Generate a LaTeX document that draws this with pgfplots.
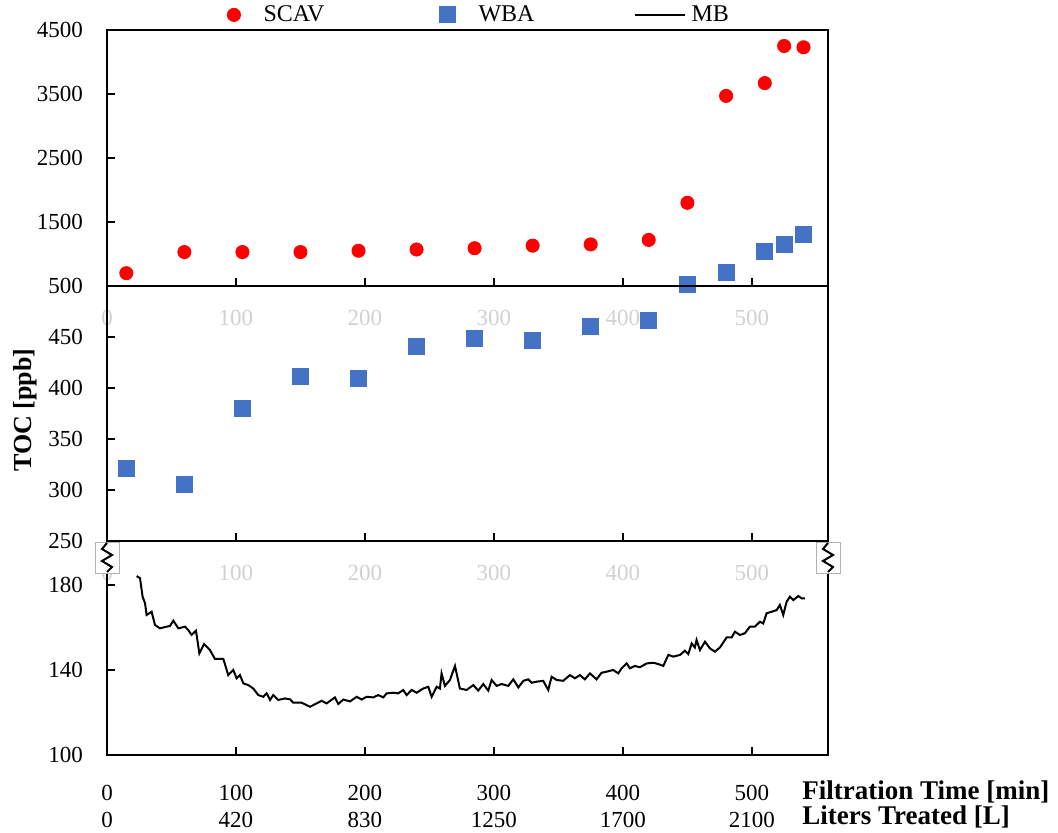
\documentclass[border=0pt]{standalone}
\usepackage{fontspec}
\setmainfont{Liberation Serif}
\usepackage{pgfplots}
\pgfplotsset{compat=1.18}
\definecolor{scav}{HTML}{FF0000}
\definecolor{wba}{HTML}{4472C4}
\definecolor{ghost}{gray}{0.82}
\pgfplotsset{
  panel/.style={
    scale only axis, width=360.5pt,
    xmin=0, xmax=559,
    xtick={0,100,200,300,400,500},
    xtick pos=bottom, ytick pos=left, tick align=inside,
    major tick length=4pt,
    tick style={black, line width=0.8pt},
    axis line style={black, line width=1pt},
    /pgf/number format/assume math mode=true,
    /pgf/number format/1000 sep={},
    tick label style={font=\fontsize{11.5}{13.5}\selectfont},
    yticklabel style={xshift=-8.5pt},
  }
}
\begin{document}
\begin{tikzpicture}
\useasboundingbox (0,0) rectangle (529pt,416.5pt);

% ---------------- top panel ----------------
\begin{axis}[panel, at={(53.5pt,273.5pt)}, anchor=south west,
  height=128pt, ymin=500, ymax=4500,
  ytick={500,1500,2500,3500,4500},
  xticklabel style={text=ghost, yshift=-8.5pt},
  clip=false,
  legend columns=3,
  legend style={draw=none, fill=none, at={(0.158,1.059)}, anchor=west,
    font=\fontsize{12}{14}\selectfont,
    nodes={text width=86pt, align=left},
    /tikz/every odd column/.append style={column sep=9.5pt}},
  legend cell align=left]
\addplot[only marks, mark=*, mark size=3.3pt, color=scav] coordinates {
(15,700) (60,1030) (105,1030) (150,1030) (195,1050) (240,1070) (285,1090)
(330,1130) (375,1150) (420,1220) (450,1800) (480,3470) (510,3670) (525,4250) (540,4230)};
\addlegendentry{SCAV}
\addplot[only marks, mark=square*, mark size=4pt, color=wba] coordinates {
(450,530) (480,719) (510,1047) (525,1156) (540,1312)};
\addlegendentry{WBA}
\addlegendimage{legend image code/.code={%
  \path (0.3cm-3.3pt,0cm) -- (0.3cm+3.3pt,0cm);
  \draw[black, line width=1pt, overlay] (0.3cm-13.5pt,0cm) -- (0.3cm+11.5pt,0cm);}}
\addlegendentry{MB}
\end{axis}

% ---------------- middle panel ----------------
\begin{axis}[panel, at={(53.5pt,146pt)}, anchor=south west,
  height=127.5pt, ymin=250, ymax=500,
  ytick={250,300,350,400,450},
  xticklabel style={text=ghost, yshift=-8.5pt},
  clip=false]
\addplot[only marks, mark=square*, mark size=4pt, color=wba] coordinates {
(15,321) (60,305) (105,380) (150,411) (195,409) (240,441) (285,449)
(330,447) (375,460) (420,466)};
\end{axis}

% ---------------- bottom panel ----------------
\begin{axis}[panel, at={(53.5pt,39pt)}, anchor=south west,
  height=107pt, ymin=100, ymax=200.7,
  ytick={100,140,180},
  xticklabels={{0\\[0pt]0},{100\\[0pt]420},{200\\[0pt]830},{300\\[0pt]1250},{400\\[0pt]1700},{500\\[0pt]2100}},
  xticklabel style={align=center, yshift=-11.5pt},
  clip=false]
\addplot[black, line width=1pt, mark=none] coordinates {
(23,184.2) (25.6,183.2) (27.6,174.5) (29.5,171.4) (30.7,165.9) (32.8,166.7) (34.6,167.4)
(37.2,161.2) (41.1,159.6) (46.3,160.4) (48.8,160.7) (51.4,163.2) (55.3,159.6) (60.5,160.4)
(63,158.8) (65.6,156.5) (69,158.5) (71.6,147.8) (75.2,152.2) (79.8,149.4) (83.7,145.2)
(90.2,145.2) (94,137.6) (97.9,140) (100.5,136.1) (103.1,137.6) (105.7,133.7) (109.5,132.9)
(113.4,131.3) (117.3,128.2) (121.2,127.4) (123.8,129) (126.4,125.9) (128.9,128.2) (132.8,125.9)
(138,126.6) (141.9,126.2) (144.4,124.6) (150.9,124.6) (157.4,122.7) (162.6,124.3) (166.4,125.5)
(170.3,124.3) (176.7,127.1) (179.3,124) (183.2,126.1) (188.4,125.2) (193.6,127.4) (197.4,126.1)
(201.3,127.4) (206.4,127.1) (210.3,128.2) (214.2,127.1) (216.8,129) (221.9,129.3) (225.8,129)
(229.7,130.6) (232.3,128.2) (236.2,130.6) (240.1,129.3) (245.2,131.3) (249.1,132.1) (251.7,127.4)
(255.6,132.1) (258.1,131.3) (259.4,138.4) (262,132.5) (265.9,135.3) (269.8,141.9) (273.6,131.3)
(278.8,130.6) (284,132.9) (287.8,130.3) (291.7,133.4) (295.6,130.3) (298.2,135.3) (302.1,132.5)
(306,133.4) (311.1,132.5) (315,135.6) (318.9,131.8) (322.8,134.9) (326.6,135.6) (329.2,134)
(333.1,134.5) (338.2,134.9) (342.1,130.6) (344.7,136.8) (348.6,135.3) (353.7,134.9) (358.9,137.6)
(362.8,136.1) (366.7,137.6) (370.5,135.6) (374.4,138.4) (379.6,135.6) (383.4,138.7) (387.3,139.2)
(392.5,140) (396.4,138.4) (399,140.8) (402.9,143.1) (405.4,140.8) (409.3,141.9) (413.2,141.3)
(418.4,143.1) (423.5,143.4) (427.4,142.8) (431.3,141.9) (435.2,147.1) (439.1,146.3) (444.3,147.1)
(448.1,149.1) (450.7,147.5) (453.3,152.5) (455.8,150.6) (457.1,154.1) (459.7,149.4) (463.6,153.3)
(467.4,150.2) (471.3,148.6) (475.2,150.6) (480.4,155.3) (484.3,155.3) (486.8,158) (490.7,156.5)
(494.6,157.3) (498.4,160.4) (502.3,160.4) (506.2,162.7) (508.8,161.9) (511.4,166.7) (515.3,167.4)
(519.2,168.2) (521.7,170.6) (524.3,165.9) (526.9,172.1) (529.5,174.5) (532.1,172.9) (536,174.8)
(538.6,173.7) (541.1,173.7)};
\end{axis}

% axis break symbols
\foreach \bx in {53.5,414} {
  \filldraw[fill=white, draw=black!30, line width=0.4pt] (\bx pt-6pt,130pt) rectangle (\bx pt+6pt,145.4pt);
  \draw[black, line width=1pt] (\bx pt,145pt) -- (\bx pt-2.5pt,142pt) -- (\bx pt+2.5pt,139pt)
     -- (\bx pt-2.5pt,136pt) -- (\bx pt+2.5pt,133pt) -- (\bx pt,130.5pt);
}

% y label
\node[rotate=90, font=\bfseries\fontsize{13}{15}\selectfont] at (12.5pt,211.5pt) {TOC [ppb]};
% x labels
\node[anchor=west, font=\bfseries\fontsize{13.5}{15}\selectfont, inner sep=0pt] at (401pt,20.5pt) {Filtration Time [min]};
\node[anchor=west, font=\bfseries\fontsize{13.5}{15}\selectfont, inner sep=0pt] at (401pt,8pt) {Liters Treated [L]};
\end{tikzpicture}
\end{document}
